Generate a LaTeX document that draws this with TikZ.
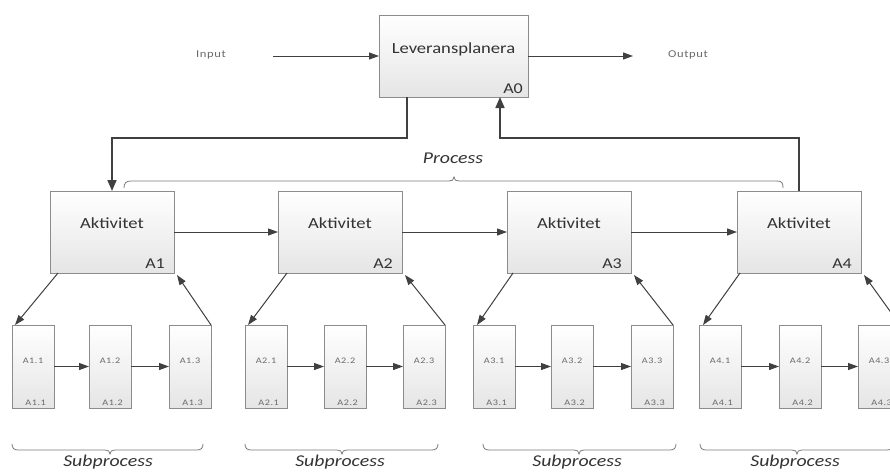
\documentclass[tikz,border=0pt]{standalone}
\usepackage{fontspec}
\setmainfont{Carlito}[FakeStretch=1.2]
\newfontfamily\spacedfont{Carlito}[FakeStretch=1.2,LetterSpace=6]
\usetikzlibrary{arrows.meta,calc,shadows}

\definecolor{ink}{HTML}{404040}
\definecolor{boxline}{HTML}{8C8C8C}
\definecolor{boxbot}{HTML}{E5E5E5}
\definecolor{txt}{HTML}{333333}
\definecolor{soft}{HTML}{6A6A6A}
\definecolor{bracecol}{HTML}{7A7A7A}

\tikzset{
  gbox/.style={draw=boxline, line width=0.8pt, top color=white, bottom color=boxbot,
    inner sep=0pt, outer sep=0pt,
    drop shadow={shadow xshift=1pt, shadow yshift=-1pt, opacity=0.22, fill=black}},
  mainbox/.style={gbox, minimum width=149pt, minimum height=82pt},
  actbox/.style={gbox, minimum width=124pt, minimum height=82pt},
  subbox/.style={gbox, minimum width=42pt, minimum height=83pt},
  acttext/.style={text=txt, font=\fontsize{15.5}{18}\selectfont, inner sep=0pt, anchor=base},
  idtext/.style={text=txt, font=\fontsize{15}{18}\selectfont, inner sep=0pt, anchor=base east},
  subtext/.style={text=soft, font=\spacedfont\fontsize{8.5}{10}\selectfont, inner sep=0pt, anchor=base},
  subid/.style={text=soft, font=\spacedfont\fontsize{8.5}{10}\selectfont, inner sep=0pt, anchor=base east},
  iotext/.style={text=soft, font=\spacedfont\fontsize{10.5}{12}\selectfont, inner sep=0pt},
  bracetext/.style={text=txt, font=\itshape\fontsize{16.5}{20}\selectfont, inner sep=0pt, anchor=base},
  flow/.style={draw=ink, line width=1pt, -{Triangle[length=10pt,width=7pt]}},
  loopline/.style={draw=ink, line width=1.6pt, -{Triangle[length=11pt,width=9pt]}},
  brace/.style={draw=bracecol, line width=0.8pt},
}

\begin{document}
\begin{tikzpicture}[x=1pt,y=-1pt]
  \useasboundingbox (0,0) rectangle (890,471);
  \fill[white] (0,0) rectangle (890,471);
  \clip (0,0) rectangle (890,471);

  % top level activity
  \node[mainbox] (A0) at (453.5,56) {};
  \node[acttext] (A0t) at ($(A0.north)+(0,38)$) {Leveransplanera};
  \node[idtext] (A0id) at ($(A0.south east)+(-5,-4)$) {A0};

  \coordinate (in) at (273,56);
  \coordinate (out) at (633,56);
  \node[iotext] (inlbl) at (211,55) {Input};
  \node[iotext] (outlbl) at (688,55) {Output};
  \draw[flow] (in) -- (A0.west);
  \draw[flow] (A0.east) -- (out);

  % process activities
  \foreach \i/\x in {1/112,2/340,3/569,4/799}{
    \node[actbox] (A\i) at (\x,232) {};
    \node[acttext] (A\i t) at ($(A\i.north)+(0,37)$) {Aktivitet};
    \node[idtext] (A\i id) at ($(A\i.south east)+(-9,-5)$) {A\i};
  }
  \draw[flow] (A1.east) -- (A2.west);
  \draw[flow] (A2.east) -- (A3.west);
  \draw[flow] (A3.east) -- (A4.west);

  % feedback loop between A0 and the process
  \draw[loopline] ($(A0.south west)+(28,0)$) -- ++(0,41) -| (A1.north);
  \draw[loopline] (A4.north) -- ++(0,-53) -| ($(A0.south east)+(-28,0)$);

  % process brace
  \draw[brace] (124,188) .. controls (124,183) and (126,181) .. (131,181)
    -- (449,181) .. controls (452,181) and (454,180) .. (454,177)
    .. controls (454,180) and (456,181) .. (459,181)
    -- (777,181) .. controls (782,181) and (783,183) .. (783,188);
  \node[bracetext] (proc) at (453,163) {Process};

  % subprocess boxes
  \foreach \i/\a/\b/\c/\dl/\dr in {1/12/89/169/8/3, 2/245/324/403/9/3, 3/473/551/631/6/4, 4/699/779/858/3/4}{
    \node[subbox] (A\i1) at (\a+21,366.5) {};
    \node[subbox] (A\i2) at (\b+21,366.5) {};
    \node[subbox] (A\i3) at (\c+21,366.5) {};
    \foreach \j in {1,2,3}{
      \node[subtext] (A\i\j t) at ($(A\i\j.north)+(0,38)$) {A\i.\j};
      \node[subid] (A\i\j id) at ($(A\i\j.south east)+(-8,-3)$) {A\i.\j};
    }
    \draw[flow] (A\i1.east) -- (A\i2.west);
    \draw[flow] (A\i2.east) -- (A\i3.west);
    \draw[flow] ($(A\i.south west)+(\dl,0)$) -- ($(A\i1.north west)+(\dr,0)$);
    \draw[flow] (A\i3.north east) -- ($(A\i.south east)+(3,2)$);
  }

  % subprocess braces
  \foreach \l/\t/\r in {12/110/203, 245/342/438, 483/579/676, 700/797/893}{
    \draw[brace] (\l,444) .. controls (\l,448) and (\l+2,450) .. (\l+6,450)
      -- (\t-5,450) .. controls (\t-2,450) and (\t,451) .. (\t,454)
      .. controls (\t,451) and (\t+2,450) .. (\t+5,450)
      -- (\r-6,450) .. controls (\r-2,450) and (\r,448) .. (\r,444);
    \node[bracetext] at (\t-2,466) {Subprocess};
  }
\end{tikzpicture}
\end{document}
